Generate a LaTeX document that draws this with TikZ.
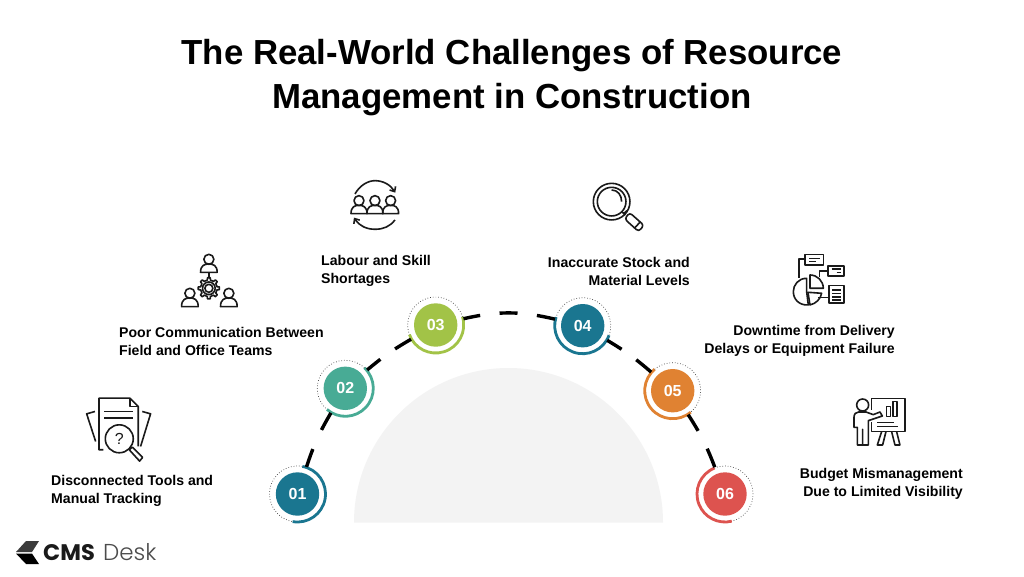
\documentclass[tikz,border=0pt]{standalone}
\usepackage{fontspec}
\setmainfont{Liberation Sans}
\newfontfamily\logofont{Poppins}
\newfontfamily\logolight{Poppins Light}
\usetikzlibrary{arrows.meta}
\definecolor{cTeal}{HTML}{1A7690}
\definecolor{cGreen}{HTML}{48AB95}
\definecolor{cLime}{HTML}{A2C347}
\definecolor{cOrange}{HTML}{E08232}
\definecolor{cRed}{HTML}{DD534F}
\definecolor{cBg}{HTML}{F3F3F3}
\definecolor{cInk}{HTML}{1A1A1A}
\tikzset{
  badge/.style={circle,fill=#1,text=white,minimum size=43.4pt,inner sep=0pt,outer sep=6.8pt,
    font=\bfseries\fontsize{16}{16}\selectfont},
  ringc/.style={line width=2.8pt,line cap=butt},
  ringd/.style={line width=0.7pt,dotted,draw=black!75},
  conn/.style={line width=3.4pt,draw=black},
  lbl/.style={inner sep=0pt,font=\bfseries\fontsize{14.1}{18}\selectfont,text=black},
  ico/.style={line width=1.6pt,draw=cInk,line join=round},
  ttl/.style={inner sep=0pt,font=\bfseries\fontsize{34.8}{44}\selectfont,align=center,text=black},
}
% cx, head cy, head r, half width, top of shoulders, bottom (zoom coordinates)
\newcommand{\persongly}[6]{%
  \draw[ico] (#1,#2) circle[radius=#3];
  \draw[ico] ({#1-#4},#6) .. controls ({#1-#4},{#5+4}) and ({#1-0.5*#4},#5) .. (#1,#5)
     .. controls ({#1+0.5*#4},#5) and ({#1+#4},{#5+4}) .. ({#1+#4},#6) -- cycle;
}
\begin{document}
\begin{tikzpicture}[x=1pt,y=1pt]
\useasboundingbox (0,0) rectangle (1024,-576);
\fill[white] (0,0) rectangle (1024,-576);
% title
\node[ttl] (title) at (512,-78) {The Real-World Challenges of Resource\\Management in Construction};
% background half disc
\fill[cBg] (354,-522.5) arc[start angle=180,end angle=0,radius=154.5] -- cycle;
% badges
\node[badge=cTeal]   (n1) at (297.5,-494) {01};
\node[badge=cGreen]  (n2) at (345.3,-388.3) {02};
\node[badge=cLime]   (n3) at (435.7,-325) {03};
\node[badge=cTeal]   (n4) at (582.7,-325.7) {04};
\node[badge=cOrange] (n5) at (672.7,-390.7) {05};
\node[badge=cRed]    (n6) at (725,-494) {06};
% rings
\draw[ringc,cTeal]   (n1.center) ++(80:28) arc[start angle=80,end angle=-100,radius=28];
\draw[ringd]         (n1.center) ++(80:28) arc[start angle=80,end angle=260,radius=28];
\draw[ringc,cGreen]  (n2.center) ++(47:28) arc[start angle=47,end angle=-131,radius=28];
\draw[ringd]         (n2.center) ++(47:28) arc[start angle=47,end angle=229,radius=28];
\draw[ringc,cLime]   (n3.center) ++(17:28) arc[start angle=17,end angle=-160,radius=28];
\draw[ringd]         (n3.center) ++(17:28) arc[start angle=17,end angle=200,radius=28];
\draw[ringc,cTeal]   (n4.center) ++(-20:28) arc[start angle=-20,end angle=-198,radius=28];
\draw[ringd]         (n4.center) ++(-20:28) arc[start angle=-20,end angle=162,radius=28];
\draw[ringc,cOrange] (n5.center) ++(130:28) arc[start angle=130,end angle=310,radius=28];
\draw[ringd]         (n5.center) ++(130:28) arc[start angle=130,end angle=-50,radius=28];
\draw[ringc,cRed]    (n6.center) ++(112:28) arc[start angle=112,end angle=284,radius=28];
\draw[ringd]         (n6.center) ++(112:28) arc[start angle=112,end angle=-76,radius=28];
% connectors
\draw[conn,dash pattern=on 19pt off 21pt on 20pt off 5pt] (n1) to[bend left=6] (n2);
\draw[conn,dash pattern=on 17pt off 18pt on 20pt off 5pt] (n2) to[bend left=5] (n3);
\draw[conn,dash pattern=on 17pt off 19.5pt on 18pt off 19.5pt on 20pt off 5pt] (n3) to[bend left=13] (n4);
\draw[conn,dash pattern=on 17pt off 18pt on 20pt off 5pt] (n4) to[bend left=5] (n5);
\draw[conn,dash pattern=on 19pt off 20pt on 20pt off 5pt] (n5) to[bend left=6] (n6);
% labels
\node[lbl,anchor=west,align=left]   (l1) at (51,-490.5)  {Disconnected Tools and\\Manual Tracking};
\node[lbl,anchor=west,align=left]   (l2) at (119,-341) {Poor Communication Between\\Field and Office Teams};
\node[lbl,anchor=west,align=left]   (l3) at (321,-270.5) {Labour and Skill\\Shortages};
\node[lbl,anchor=east,align=right]  (l4) at (690,-271) {Inaccurate Stock and\\Material Levels};
\node[lbl,anchor=east,align=right]  (l5) at (895,-341) {Downtime from Delivery\\Delays or Equipment Failure};
\node[lbl,anchor=east,align=right]  (l6) at (963,-483.5) {Budget Mismanagement\\Due to Limited Visibility};
% icon 1: document and magnifier
\begin{scope}[shift={(70,-240)},x=0.333pt,y=-0.333pt]
  \draw[ico] (100,630) -- (87,630) -- (87,475) -- (180,475) -- (205,500) -- (205,620);
  \draw[ico] (180,475) -- (180,500) -- (205,500);
  \draw[ico] (103,515) -- (188,515) (103,535) -- (188,535);
  \draw[ico] (75,515) -- (50,522) -- (77,605);
  \draw[ico] (217,515) -- (242,522) -- (212,620);
  \draw[ico,fill=white] (148,597) circle[radius=42];
  \node[inner sep=0pt,font=\fontsize{16}{16}\selectfont,text=cInk] (q) at (148,597) {?};
  \draw[ico,fill=white] (178,630) -- (187,622) -- (218,653) -- (209,664) -- cycle;
\end{scope}
% icon 2: people and gear
\begin{scope}[shift={(70,-240)},x=0.333pt,y=-0.333pt]
  \persongly{417}{58}{15}{25}{72}{97}
  \persongly{360}{160}{15}{25}{174}{200}
  \persongly{477}{160}{15}{25}{174}{200}
  \draw[ico] (417,97) -- (417,115);
  \draw[ico] (417,145) circle[radius=19] (417,145) circle[radius=12];
  \draw[ico,shift={(417,145)}] (-11:25)
    \foreach \a in {0,45,...,315} { -- (\a-11:25) -- (\a-7:32) -- (\a+7:32) -- (\a+11:25) } -- cycle;
\end{scope}
% icon 3: team and cycle
\begin{scope}[shift={(340,-170)},x=0.333pt,y=-0.333pt]
  \persongly{57}{92}{15}{24}{106}{131}
  \persongly{105}{92}{15}{24}{106}{131}
  \persongly{152}{92}{15}{24}{106}{131}
  \draw[ico,-{Straight Barb[length=4pt,width=7pt]}] (45,72) .. controls (60,45) and (85,32) .. (105,32) .. controls (130,32) and (152,45) .. (166,68);
  \draw[ico,-{Straight Barb[length=4pt,width=7pt]}] (165,150) .. controls (150,170) and (130,178) .. (105,178) .. controls (80,178) and (58,168) .. (42,143);
\end{scope}
% icon 4: magnifier
\begin{scope}[shift={(580,-170)},x=0.333pt,y=-0.333pt]
  \draw[ico] (95,95) circle[radius=55] (95,95) circle[radius=43];
  \draw[ico] (95,60) .. controls (113,60) and (125,75) .. (125,95);
  \draw[ico] (131,131) -- (141,122) (125,125) -- (136,135);
  \draw[ico,rounded corners=3pt] (134,147) -- (149,128) -- (192,166) -- (176,185) -- cycle;
  \draw[ico] (163,175) -- (181,156);
\end{scope}
% icon 5: charts
\begin{scope}[shift={(780,-245)},x=0.333pt,y=-0.333pt]
  \draw[ico] (75,28) rectangle (130,60);
  \draw[ico] (88,40) -- (120,40) (88,50) -- (108,50);
  \draw[ico] (75,42) -- (57,42) -- (57,100);
  \draw[ico] (145,63) rectangle (192,93);
  \draw[ico] (155,72) -- (182,72) (170,82) -- (182,82);
  \draw[ico] (145,78) -- (118,78) -- (118,95);
  \draw[ico] (147,122) rectangle (192,175);
  \draw[ico] (157,135) -- (182,135) (157,146) -- (182,146) (157,156) -- (182,156) (157,166) -- (182,166);
  \draw[ico] (147,158) -- (115,158);
  \draw[ico] (80,100) .. controls (55,100) and (40,120) .. (40,140) .. controls (40,165) and (60,182) .. (85,180) -- (80,140) -- cycle;
  \draw[ico] (90,90) -- (90,130) -- (130,130) .. controls (130,108) and (112,90) .. (90,90) -- cycle;
  \draw[ico] (84,142) -- (125,145) .. controls (122,162) and (108,176) .. (90,180) -- cycle;
\end{scope}
% icon 6: presenter and board
\begin{scope}[shift={(840,-390)},x=0.333pt,y=-0.333pt]
  \draw[ico] (68,45) circle[radius=18];
  \draw[ico] (52,165) -- (52,112) -- (42,112) -- (42,82) .. controls (42,72) and (48,66) .. (56,66) -- (78,66) -- (100,74) -- (120,66) -- (127,78) -- (85,92) -- (85,165) -- (68,165) -- (68,118) -- (68,165) -- cycle;
  \draw[ico] (95,60) -- (95,25) -- (195,25) -- (195,125) -- (95,125) -- (95,95);
  \draw[ico] (140,50) rectangle (152,80) (160,35) rectangle (172,80);
  \draw[ico] (112,97) -- (162,97) (112,110) -- (175,110);
  \draw[ico] (125,125) -- (112,165) -- (128,165) -- (138,125);
  \draw[ico] (155,125) -- (165,165) -- (180,165) -- (170,125);
\end{scope}
% logo
\fill[cInk!85] (16,-552) -- (26,-541) -- (39,-541) -- (32,-552) -- cycle;
\fill[black]   (16,-553.5) -- (32,-553.5) -- (39,-564) -- (26,-564) -- cycle;
\node[inner sep=0pt,anchor=base west,font=\logofont\bfseries\fontsize{22.5}{23}\selectfont,text=cInk] (lg1) at (43,-560.5) {CMS};
\node[inner sep=0pt,anchor=base west,font=\logolight\fontsize{23}{23}\selectfont,text=black!70] (lg2) at (103,-560.5) {Desk};
\end{tikzpicture}
\end{document}
